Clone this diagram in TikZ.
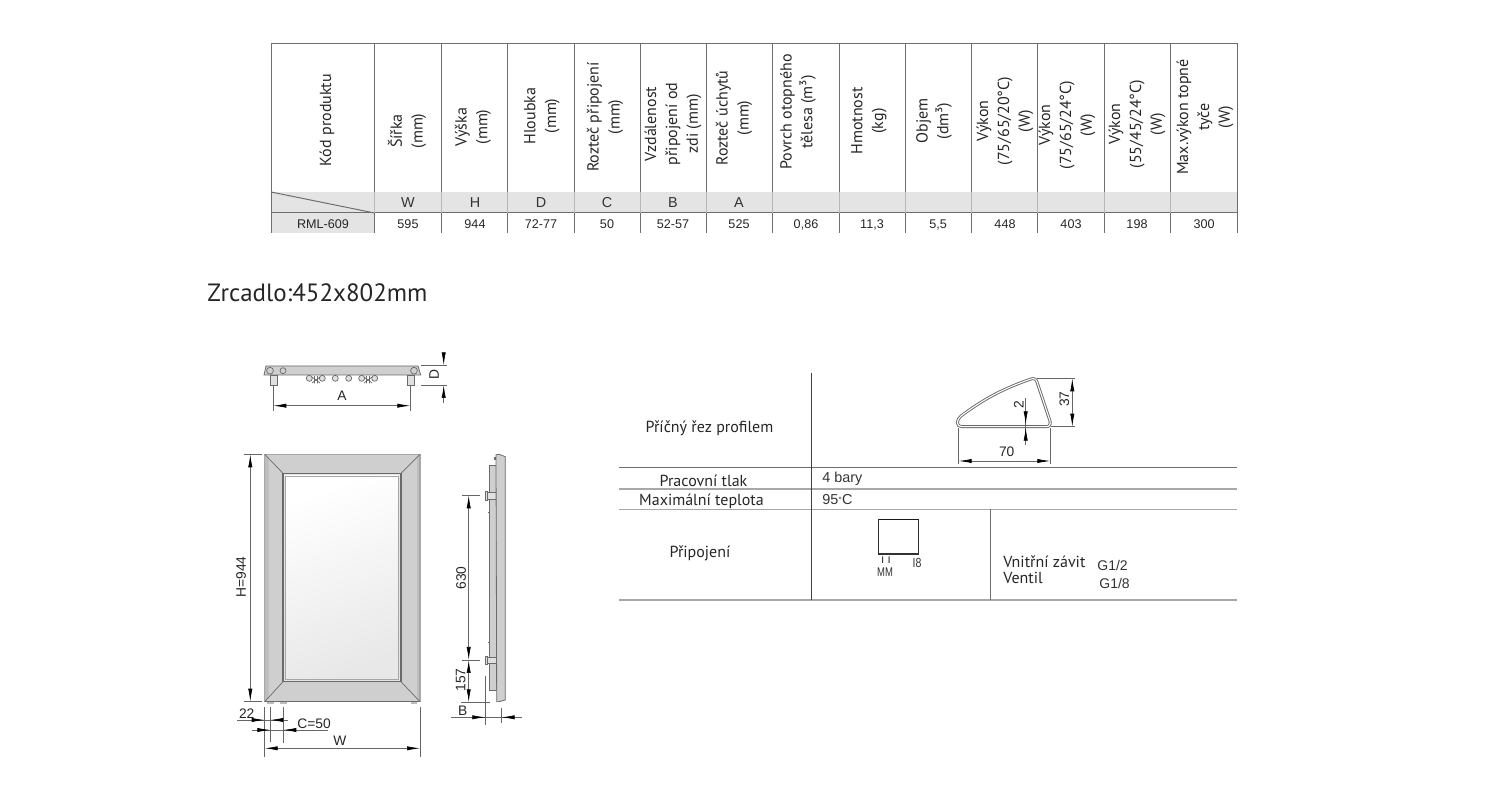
\documentclass[tikz,border=0pt]{standalone}
\usepackage{fontspec}
\setmainfont{Liberation Sans}
\newfontfamily\headfont{PT Sans}
\usetikzlibrary{arrows.meta}
\definecolor{rulegray}{HTML}{6E6E6E}
\definecolor{softgray}{HTML}{A8A8A8}
\definecolor{cellgray}{HTML}{E4E4E4}
\definecolor{framegray}{HTML}{CFCFCF}
\definecolor{stripgray}{HTML}{BDBDBD}
\definecolor{edgegray}{HTML}{6A6A6A}
\begin{document}
\begin{tikzpicture}
 [ x=0.5pt
 , y=-0.5pt
 , >={Latex[length=6.5pt,width=2.1pt,color=black]}
 , tablerule/.style={draw=rulegray, line width=0.5pt}
 , softrule/.style={draw=softgray, line width=0.6pt}
 , headcell/.style={rotate=90, align=center, inner sep=0pt, font=\headfont\fontsize{8}{10.4}\selectfont, text=black!85}
 , lettercell/.style={inner sep=0pt, anchor=base, font=\fontsize{7.2}{8}\selectfont, text=black!80}
 , valuecell/.style={inner sep=0pt, anchor=base, font=\fontsize{6.3}{8}\selectfont, text=black!85}
 , titletext/.style={inner sep=0pt, font=\headfont\fontsize{12.5}{13}\selectfont, text=black!85}
 , labeltext/.style={inner sep=0pt, anchor=base, font=\headfont\fontsize{8}{9}\selectfont, text=black!85}
 , plaintext/.style={inner sep=0pt, font=\fontsize{7.2}{8}\selectfont, text=black!80}
 , dimline/.style={draw=black!60, line width=0.35pt}
 , dimtext/.style={inner sep=0pt, font=\fontsize{6.9}{8}\selectfont, text=black!85}
 , metal/.style={draw=edgegray, fill=framegray, line width=0.4pt}
 , fitting/.style={draw=edgegray, fill=black!12, line width=0.35pt}
 ]
  \useasboundingbox (0,0) rectangle (1500,790);

  % spec table
  \fill [cellgray] (271,192) rectangle (1237,213);
  \fill [cellgray] (271,213) rectangle (374.5,233);
  \draw [tablerule] (271,233) -- (271,44) -- (1237,44) -- (1237,233);
  \draw [tablerule] (271,213) -- (1237,213);
  \draw [tablerule] (271,192) -- (374.5,213);
  \foreach \colx in {374.5,441,507.5,574,640,706.5,772.5,839,905.5,971.5,1037.5,1104,1170.5}
  {
    \draw [tablerule] (\colx,44) -- (\colx,192);
    \draw [draw=black!28, line width=0.4pt] (\colx,192) -- (\colx,213);
    \draw [tablerule] (\colx,213) -- (\colx,233);
  }
  \node [headcell] (headcode) at (327,120) {Kód produktu};
  \node [headcell] (headwidth) at (407,131) {Šířka\\(mm)};
  \node [headcell] (headheight) at (473,127) {Výška\\(mm)};
  \node [headcell] (headdepth) at (542,116) {Hloubka\\(mm)};
  \node [headcell] (headpitch) at (605,117) {Rozteč připojení\\(mm)};
  \node [headcell] (headwall) at (673,124) {Vzdálenost\\připojení od\\zdi (mm)};
  \node [headcell] (headholder) at (734,118) {Rozteč úchytů\\(mm)};
  \node [headcell] (headsurface) at (798,112) {Povrch otopného\\tělesa (m³)};
  \node [headcell] (headmass) at (869,121) {Hmotnost\\(kg)};
  \node [headcell] (headvolume) at (934,121) {Objem\\(dm³)};
  \node [headcell] (headpowera) at (1005,121) {Výkon\\(75/65/20°C)\\(W)};
  \node [headcell] (headpowerb) at (1067,125) {Výkon\\(75/65/24°C)\\(W)};
  \node [headcell] (headpowerc) at (1137,124) {Výkon\\(55/45/24°C)\\(W)};
  \node [headcell] (headrod) at (1205,117) {Max.výkon topné\\tyče\\(W)};
  \node [lettercell] (letterW) at (408,208) {W};
  \node [lettercell] (letterH) at (475,208) {H};
  \node [lettercell] (letterD) at (541,208) {D};
  \node [lettercell] (letterC) at (607,208) {C};
  \node [lettercell] (letterB) at (673,208) {B};
  \node [lettercell] (letterA) at (739,208) {A};
  \node [valuecell] (valcode) at (323,228.5) {RML-609};
  \node [valuecell] (valwidth) at (408,228.5) {595};
  \node [valuecell] (valheight) at (475,228.5) {944};
  \node [valuecell] (valdepth) at (541,228.5) {72-77};
  \node [valuecell] (valpitch) at (607,228.5) {50};
  \node [valuecell] (valwall) at (673,228.5) {52-57};
  \node [valuecell] (valholder) at (739,228.5) {525};
  \node [valuecell] (valsurface) at (806,228.5) {0,86};
  \node [valuecell] (valmass) at (872,228.5) {11,3};
  \node [valuecell] (valvolume) at (938,228.5) {5,5};
  \node [valuecell] (valpowera) at (1005,228.5) {448};
  \node [valuecell] (valpowerb) at (1071,228.5) {403};
  \node [valuecell] (valpowerc) at (1137,228.5) {198};
  \node [valuecell] (valrod) at (1204,228.5) {300};

  \node [titletext, anchor=west] (mirrorsize) at (207,293) {Zrcadlo:452x802mm};

  % top view
  \draw [metal] (266,366) -- (418,366) -- (420.7,375) -- (264,375) -- cycle;
  \draw [draw=edgegray, line width=0.35pt] (270,370.7) circle (3.4);
  \draw [draw=edgegray, line width=0.35pt] (283,370.7) circle (3);
  \draw [draw=edgegray, line width=0.35pt] (414,370.7) circle (3.4);
  \foreach \legx in {270,407}
    \draw [fitting] (\legx,375.5) rectangle ++(7.3,9.5);
  \foreach \portx in {309.3,322.3,335.3,348.7,361.7,374.7}
    \draw [fitting] (\portx,378.3) circle (3);
  \foreach \valvex in {316,368}
  {
    \draw [draw=edgegray, line width=0.35pt] (\valvex-4,377) -- (\valvex+4,383) (\valvex+4,377) -- (\valvex-4,383) (\valvex-1.5,376) -- (\valvex-1.5,383.5) (\valvex+1.5,376) -- (\valvex+1.5,383.5);
  }
  \draw [dimline] (273.3,385) -- (273.3,410.7);
  \draw [dimline] (410.3,385) -- (410.3,410.7);
  \draw [dimline, <->] (273.3,405.7) -- (410.3,405.7);
  \node [dimtext] (labelA) at (342,395.7) {A};
  \draw [dimline] (421,365.3) -- (447,365.3);
  \draw [dimline] (421,385) -- (447,385);
  \draw [dimline, ->] (443.7,355) -- (443.7,365.3);
  \draw [dimline, ->] (443.7,403) -- (443.7,385);
  \node [dimtext, rotate=90] (labelD) at (434,375) {D};

  % front view
  \fill [framegray] (264.7,454.3) rectangle (420,701.7);
  \fill [stripgray] (264.7,454.3) -- (268.5,458) -- (268.5,698) -- (264.7,701.7) -- cycle;
  \fill [stripgray] (420,454.3) -- (417,457.5) -- (417,698.5) -- (420,701.7) -- cycle;
  \draw [draw=softgray, line width=0.6pt] (264.7,454.3) rectangle (420,701.7);
  \draw [draw=edgegray, line width=0.8pt] (264.7,701.7) -- (420,701.7);
  \draw [draw=edgegray, line width=0.35pt] (264.7,454.3) -- (283,473.3) (420,454.3) -- (401,473.3)
    (264.7,701.7) -- (283,681.7) (420,701.7) -- (401,681.7);
  \draw [draw=edgegray, fill=black!10, line width=0.55pt] (283,473.3) rectangle (401,681.7);
  \draw [draw=black!35, line width=0.3pt, bottom color=black!9, top color=white, shading angle=20] (285.7,476) rectangle (398.3,679.5);
  \fill [stripgray] (266.7,702) rectangle ++(7.3,1.6);
  \fill [stripgray] (280,702) rectangle ++(6.7,1.6);
  \fill [stripgray] (410.7,702) rectangle ++(6,1.6);
  \draw [dimline] (244,454.3) -- (261.7,454.3);
  \draw [dimline] (244,701.7) -- (261.7,701.7);
  \draw [dimline, <->] (250.3,454.3) -- (250.3,701.7);
  \node [dimtext, rotate=90] (labelH) at (241,577) {H=944};
  \draw [dimline] (264.7,706.7) -- (264.7,756.7);
  \draw [dimline] (270.3,706.7) -- (270.3,741.7);
  \draw [dimline] (283.3,706.7) -- (283.3,743);
  \draw [dimline] (420,706.7) -- (420,756.7);
  \draw [dimline] (237.3,720) -- (288.3,720);
  \draw [dimline, ->] (250,720) -- (264.7,720);
  \draw [dimline, ->] (283,720) -- (270.3,720);
  \node [dimtext, anchor=south] (label22) at (246.7,719) {22};
  \draw [dimline] (252,730) -- (328.3,730);
  \draw [dimline, ->] (258,730) -- (270.3,730);
  \draw [dimline, ->] (296,730) -- (283.3,730);
  \node [dimtext] (labelC) at (314,724) {C=50};
  \draw [dimline, <->] (264.7,748.3) -- (420,748.3);
  \node [dimtext] (labelW) at (340,741) {W};

  % side view
  \draw [metal] (489.3,465) rectangle (496,690.7);
  \draw [fitting] (486,492.5) rectangle (496,499.5);
  \draw [fitting] (485.3,491.5) rectangle (487,500.5);
  \draw [fitting] (486,657) rectangle (496,663.5);
  \draw [fitting] (485.3,656) rectangle (487,664.5);
  \draw [metal] (496,454.8) -- (499,454.3) -- (505.3,456.7) -- (505.3,700) -- (499,701.7) -- (496.7,701.7) -- cycle;
  \fill [edgegray] (493.8,457) rectangle ++(2.2,3);
  \fill [edgegray] (488,512) rectangle ++(1.3,1.3);
  \fill [edgegray] (488,642) rectangle ++(1.3,1.3);
  \draw [dimline] (462.3,495.3) -- (480,495.3);
  \draw [dimline] (462.3,660) -- (480,660);
  \draw [dimline] (460.7,702.3) -- (490,702.3);
  \draw [dimline, <->] (468.7,495.3) -- (468.7,660);
  \draw [dimline, <->] (468.7,660) -- (468.7,702.3);
  \node [dimtext, rotate=90] (label630) at (461,578) {630};
  \node [dimtext, rotate=90] (label157) at (460.7,680) {157};
  \draw [dimline] (485.3,676) -- (485.3,725);
  \draw [dimline] (501.7,707.7) -- (501.7,722.7);
  \draw [dimline] (451,717.3) -- (521.7,717.3);
  \draw [dimline, ->] (470,717.3) -- (485.3,717.3);
  \draw [dimline, ->] (515,717.3) -- (501.7,717.3);
  \node [dimtext] (labelB) at (462.7,710.7) {B};

  % properties table
  \draw [draw=rulegray, line width=0.6pt] (619,467.5) -- (1237,467.5);
  \draw [softrule] (619,489) -- (1237,489);
  \draw [softrule] (619,509.5) -- (1237,509.5);
  \draw [softrule] (619,600) -- (1237,600);
  \draw [draw=black!75, line width=0.5pt] (811,373) -- (811,600);
  \draw [draw=rulegray, line width=0.5pt] (990.5,509.5) -- (990.5,600);
  \node [labeltext] (crosscut) at (709.5,432.7) {Příčný řez profilem};
  \node [labeltext] (pressure) at (703.5,486.7) {Pracovní tlak};
  \node [labeltext] (maxtemp) at (701.5,506) {Maximální teplota};
  \node [labeltext] (connect) at (700,558) {Připojení};
  \node [plaintext, anchor=west] (pressureval) at (822,479) {4 bary};
  \node [plaintext, anchor=west] (maxtempval) at (822,500) {95{\fontsize{4.5}{5}\selectfont\raisebox{0.8pt}{°}}C};

  % profile section
  \draw [draw=black!60, line width=0.45pt, double=white, double distance=0.55pt]
    (962,426.7) .. controls (956,426.7) and (956,420) .. (961,416)
    .. controls (985,398) and (1005,388) .. (1031,379)
    .. controls (1034,378) and (1036,379) .. (1037,382)
    -- (1050,421) .. controls (1051,425) and (1049,426.7) .. (1046,426.7) -- cycle;
  \draw [dimline] (1036.7,378.3) -- (1075,378.3);
  \draw [dimline] (1050.7,426.7) -- (1075,426.7);
  \draw [dimline, <->] (1072.3,378.3) -- (1072.3,426.7);
  \node [dimtext, rotate=90] (label37) at (1064.3,399.3) {37};
  \draw [dimline] (1025.7,398.3) -- (1025.7,445);
  \draw [dimline, ->] (1025.7,411) -- (1025.7,424.3);
  \draw [dimline, ->] (1025.7,440) -- (1025.7,427.7);
  \node [dimtext, rotate=90] (label2) at (1018.7,405) {2};
  \draw [dimline] (958.7,428) -- (958.7,464);
  \draw [dimline] (1050.3,428) -- (1050.3,464);
  \draw [dimline, <->] (958.7,461) -- (1050.3,461);
  \node [dimtext] (label70) at (1006.7,451.7) {70};

  % connection sketch
  \draw [draw=black!80, line width=0.75pt] (878.5,519.5) rectangle (918.5,554);
  \draw [draw=black!90, line width=0.9pt] (878.5,519.5) -- (918.5,519.5);
  \node [plaintext, xscale=1.2, font=\fontsize{4.8}{6}\selectfont] (ticks) at (886,560.5) {I I};
  \node [plaintext, xscale=0.75, font=\fontsize{6.3}{7}\selectfont] (mmtext) at (885,572) {MM};
  \node [plaintext, xscale=0.8, font=\fontsize{6.6}{7}\selectfont] (eight) at (917,563) {I8};
  \node [labeltext, anchor=base west] (thread) at (1003,568) {Vnitřní závit};
  \node [labeltext, anchor=base west] (valve) at (1003,584) {Ventil};
  \node [plaintext, anchor=west, font=\fontsize{7}{8}\selectfont] (threadval) at (1097,565) {G1/2};
  \node [plaintext, anchor=west, font=\fontsize{7}{8}\selectfont] (valveval) at (1099,583) {G1/8};
\end{tikzpicture}
\end{document}
